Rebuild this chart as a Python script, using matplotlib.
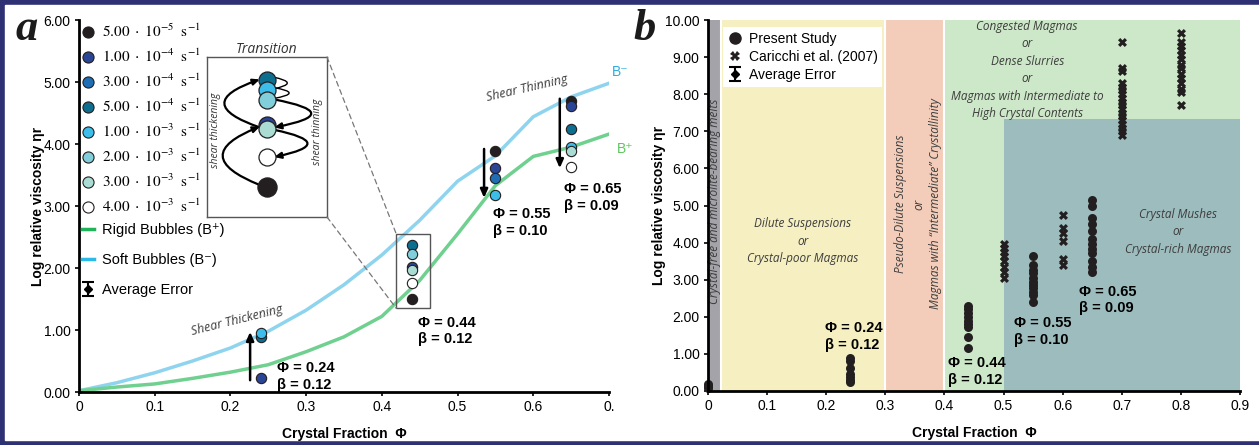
import matplotlib.pyplot as plt
from matplotlib.patches import Rectangle, ConnectionPatch
from matplotlib.lines import Line2D
from matplotlib.collections import LineCollection
from matplotlib.container import ErrorbarContainer

plt.rcParams['font.family'] = ['Liberation Sans', 'DejaVu Sans']
plt.rcParams['mathtext.fontset'] = 'stix'

# ---------------- panel a data ----------------
rate_labels = [r'$\mathrm{5.00\ \cdot\ 10^{-5}\ \ s^{-1}}$',
               r'$\mathrm{1.00\ \cdot\ 10^{-4}\ \ s^{-1}}$',
               r'$\mathrm{3.00\ \cdot\ 10^{-4}\ \ s^{-1}}$',
               r'$\mathrm{5.00\ \cdot\ 10^{-4}\ \ s^{-1}}$',
               r'$\mathrm{1.00\ \cdot\ 10^{-3}\ \ s^{-1}}$',
               r'$\mathrm{2.00\ \cdot\ 10^{-3}\ \ s^{-1}}$',
               r'$\mathrm{3.00\ \cdot\ 10^{-3}\ \ s^{-1}}$',
               r'$\mathrm{4.00\ \cdot\ 10^{-3}\ \ s^{-1}}$']
rate_colors = ['#231f20', '#2b4596', '#1f6db3', '#0e6e90',
               '#3dbde9', '#80cfdb', '#abdcd4', '#ffffff']

curve_phi = [0, 0.05, 0.1, 0.15, 0.2, 0.25, 0.3, 0.35, 0.4, 0.45, 0.5, 0.55, 0.6, 0.65, 0.7]
soft_eta = [0.02, 0.15, 0.31, 0.5, 0.71, 0.98, 1.32, 1.73, 2.21, 2.77, 3.4, 3.81, 4.44, 4.76, 4.98]
rigid_eta = [0.02, 0.08, 0.13, 0.22, 0.32, 0.44, 0.65, 0.89, 1.22, 1.8, 2.55, 3.33, 3.8, 3.95, 4.16]

pts_phi = [0.24, 0.24, 0.24,
           0.44, 0.44, 0.44, 0.44, 0.44, 0.44,
           0.55, 0.55, 0.55, 0.55,
           0.65, 0.65, 0.65, 0.65, 0.65, 0.65]
pts_eta = [0.89, 0.95, 0.23,
           2.37, 2.22, 2.02, 1.97, 1.76, 1.50,
           3.89, 3.61, 3.45, 3.18,
           4.69, 4.61, 4.24, 3.95, 3.89, 3.63]
pts_rate = [3, 4, 1,
            3, 5, 1, 6, 7, 0,
            0, 1, 2, 4,
            0, 1, 3, 4, 6, 7]

arrow_phi = [0.226, 0.535, 0.635]
arrow_from = [0.19, 3.92, 4.73]
arrow_to = [0.97, 3.13, 3.61]

label_phi = ['0.24', '0.44', '0.55', '0.65']
label_beta = ['0.12', '0.12', '0.10', '0.09']
label_x_a = [0.262, 0.448, 0.547, 0.64]
label_y_a = [0.25, 0.985, 2.735, 3.135]

# transition sketch (inset units)
sketch_y = [0.856, 0.794, 0.731, 0.575, 0.55, 0.375, 0.1875]
sketch_rate = [3, 4, 5, 1, 6, 7, 0]

# ---------------- panel b data ----------------
zone_edges = [0, 0.022, 0.30, 0.40, 0.90]
zone_colors = ['#a4a3a9', '#f5efc1', '#f3cdb9', '#cde8c8']
mush_phi = [0.5, 0.9]
mush_top = 7.33

present_phi = [0.0] * 3 + [0.24] * 7 + [0.44] * 9 + [0.55] * 11 + [0.65] * 12
present_eta = [0.08, 0.13, 0.18,
               0.9, 0.82, 0.62, 0.45, 0.38, 0.30, 0.24,
               2.3, 2.2, 2.1, 2.0, 1.9, 1.8, 1.72, 1.45, 1.15,
               3.64, 3.4, 3.26, 3.18, 3.05, 2.94, 2.86, 2.78, 2.67, 2.59, 2.4,
               5.15, 5.0, 4.65, 4.5, 4.3, 4.1, 3.95, 3.82, 3.72, 3.5, 3.35, 3.2]
caricchi_phi = [0.5] * 8 + [0.6] * 6 + [0.7] * 18 + [0.8] * 14
caricchi_eta = [3.95, 3.85, 3.75, 3.65, 3.5, 3.35, 3.2, 3.05,
                4.75, 4.4, 4.25, 4.05, 3.55, 3.4,
                9.4, 8.7, 8.62, 8.3, 8.2, 8.1, 8.0, 7.9, 7.8, 7.7, 7.6, 7.5, 7.4, 7.3, 7.2, 7.1, 7.0, 6.9,
                9.65, 9.4, 9.3, 9.2, 9.05, 8.95, 8.8, 8.7, 8.55, 8.45, 8.3, 8.15, 8.05, 7.7]
label_x_b = [0.198, 0.406, 0.518, 0.628]
label_y_b = [1.47, 0.52, 1.6, 2.45]

ink = '#231f20'
note = '#3d3d3d'
italic_font = ['Open Sans', 'DejaVu Sans']


def error_handle():
    mk = Line2D([], [], color='k', marker='D', ms=4, ls='none')
    cap = Line2D([], [], color='k', marker='_', ms=9, mew=1.5, ls='none')
    bar = LineCollection([], colors='k', linewidths=1.5)
    return ErrorbarContainer((mk, (cap, cap), (bar,)), has_xerr=False, has_yerr=True)


fig = plt.figure(figsize=(12.59, 4.45), dpi=100, facecolor='#2d3174')
fig.patches.append(Rectangle((5 / 1259, 1 - 440 / 445), 1, 435 / 445,
                             transform=fig.transFigure, color='white', zorder=-5))

# ======================= panel a =======================
ax = fig.add_axes([79 / 1259, 1 - 392 / 445, 530 / 1259, 372 / 445])
ax.set_xlim(0, 0.7)
ax.set_ylim(0, 6)
ax.patch.set_alpha(0)
for s in ['top', 'right']:
    ax.spines[s].set_visible(False)
for s in ['left', 'bottom']:
    ax.spines[s].set_linewidth(2)
ax.set_xticks([0, 0.1, 0.2, 0.3, 0.4, 0.5, 0.6, 0.7])
ax.set_xticklabels(['0', '0.1', '0.2', '0.3', '0.4', '0.5', '0.6', '0.'])
ax.set_yticks(range(7))
ax.set_yticklabels([f'{v:.2f}' for v in range(7)])
ax.tick_params(direction='out', length=3, width=1.2, labelsize=10, pad=3)
ax.set_xlabel('Crystal Fraction  Φ', fontsize=10, fontweight='bold', labelpad=9)
ax.set_ylabel('Log relative viscosity ηr', fontsize=10, fontweight='bold', labelpad=-1)

ax.plot(curve_phi, soft_eta, color='#8fd4ee', lw=2.5, zorder=2)
ax.plot(curve_phi, rigid_eta, color='#6fd08f', lw=2.5, zorder=2)
ax.text(0.704, 5.1, 'B⁻', color='#2aaedf', fontsize=10, clip_on=False)
ax.text(0.710, 3.85, 'B⁺', color='#5cc65e', fontsize=10, clip_on=False)

for i, (x, y, r) in enumerate(zip(pts_phi, pts_eta, pts_rate)):
    ax.scatter(x, y, s=55, color=rate_colors[r], edgecolor=ink, linewidth=0.8, zorder=4 + i * 0.01)

for x, y0, y1 in zip(arrow_phi, arrow_from, arrow_to):
    ax.annotate('', xy=(x, y1), xytext=(x, y0),
                arrowprops=dict(arrowstyle='-|>,head_length=0.5,head_width=0.22',
                                color='black', lw=1.8, shrinkA=0, shrinkB=0))

for x, y, p, b in zip(label_x_a, label_y_a, label_phi, label_beta):
    ax.text(x, y, f'Φ = {p}\nβ = {b}', fontsize=10.5, fontweight='bold',
            ha='left', va='center', linespacing=1.25)

ax.text(0.209, 1.16, 'Shear Thickening', rotation=14, fontsize=9, style='italic',
        color=note, family=italic_font, ha='center', va='center')
ax.text(0.592, 4.9, 'Shear Thinning', rotation=13, fontsize=9, style='italic',
        color=note, family=italic_font, ha='center', va='center')

ax.add_patch(Rectangle((0.419, 1.35), 0.045, 1.2, fill=False, ec='#555555', lw=1, zorder=3))

rate_handles = [Line2D([], [], ls='none', marker='o', ms=8, mfc=c, mec=ink, mew=0.8) for c in rate_colors]
leg1 = ax.legend(rate_handles, rate_labels, loc='upper left', bbox_to_anchor=(0.0, 1.0),
                 frameon=False, fontsize=11, handlelength=0.8, handletextpad=0.5,
                 labelspacing=0.5, borderpad=0.2, borderaxespad=0)
ax.add_artist(leg1)
other_handles = [Line2D([], [], color='#1fb35a', lw=2.5), Line2D([], [], color='#2bb9e5', lw=2.5),
                 error_handle()]
ax.legend(other_handles, ['Rigid Bubbles (B⁺)', 'Soft Bubbles (B⁻)', 'Average Error'],
          loc='upper left', bbox_to_anchor=(0.0, 0.462), frameon=False, fontsize=10.5,
          handlelength=0.8, handletextpad=0.6, labelspacing=1.1, borderpad=0.2, borderaxespad=0)

# transition sketch
ins = ax.inset_axes([0.2415, 0.4704, 0.2264, 0.4301])
ins.set_xlim(0, 1)
ins.set_ylim(0, 1)
ins.set_xticks([])
ins.set_yticks([])
for s in ins.spines.values():
    s.set_color('#555555')
    s.set_linewidth(1)
ins.set_title('Transition', fontsize=10, style='italic', family=italic_font, color='#333333', pad=2)
for y, r in zip(sketch_y, sketch_rate):
    size = 190 if r == 0 else 150
    ins.scatter(0.5, y, s=size, color=rate_colors[r], edgecolor=ink, linewidth=0.9, zorder=3)

sketch_arrows = [((0.44, 0.20), (0.44, 0.565), -1.25, True),
                 ((0.44, 0.56), (0.44, 0.86), -1.45, True),
                 ((0.56, 0.735), (0.56, 0.56), -2.6, True),
                 ((0.56, 0.545), (0.56, 0.375), -2.4, True),
                 ((0.55, 0.875), (0.55, 0.80), -2.4, False),
                 ((0.55, 0.81), (0.55, 0.74), -2.9, False)]
for a, b, rad, head in sketch_arrows:
    style = '-|>,head_length=0.4,head_width=0.18' if head else '-'
    ins.annotate('', xy=b, xytext=a,
                 arrowprops=dict(arrowstyle=style, color='black', lw=1.6 if head else 1.0,
                                 shrinkA=0, shrinkB=0, connectionstyle=f'arc3,rad={rad}'),
                 zorder=2)
ins.text(0.067, 0.54, 'shear thickening', rotation=90, fontsize=7.5, style='italic',
         family=italic_font, color='#333333', ha='center', va='center')
ins.text(0.925, 0.53, 'shear thinning', rotation=90, fontsize=7.5, style='italic',
         family=italic_font, color='#333333', ha='center', va='center')

for ya, yb in [(1, 2.55), (0, 1.35)]:
    con = ConnectionPatch(xyA=(1, ya), coordsA=ins.transAxes, xyB=(0.419, yb), coordsB=ax.transData,
                          ls=(0, (4, 3)), color='#777777', lw=0.9)
    fig.add_artist(con)

fig.text(15 / 1259, 1 - 40 / 445, 'a', fontsize=32, fontweight='bold', style='italic',
         family='Liberation Serif', color='#1b1b1b')

# ======================= panel b =======================
bx = fig.add_axes([708 / 1259, 1 - 391 / 445, 532 / 1259, 371 / 445])
bx.set_xlim(0, 0.9)
bx.set_ylim(0, 10)
bx.patch.set_alpha(0)
for s in ['top', 'right']:
    bx.spines[s].set_visible(False)
for s in ['left', 'bottom']:
    bx.spines[s].set_linewidth(2)
    bx.spines[s].set_zorder(6)
bx.set_xticks([0, 0.1, 0.2, 0.3, 0.4, 0.5, 0.6, 0.7, 0.8, 0.9])
bx.set_xticklabels(['0', '0.1', '0.2', '0.3', '0.4', '0.5', '0.6', '0.7', '0.8', '0.9'])
bx.set_yticks(range(11))
bx.set_yticklabels([f'{v:.2f}' for v in range(11)])
bx.tick_params(direction='out', length=3, width=1.2, labelsize=10, pad=3)
bx.set_xlabel('Crystal Fraction  Φ', fontsize=10, fontweight='bold', labelpad=9)
bx.set_ylabel('Log relative viscosity ηr', fontsize=10, fontweight='bold', labelpad=-1)

for x0, x1, c in zip(zone_edges[:-1], zone_edges[1:], zone_colors):
    bx.axvspan(x0, x1, color=c, lw=0, zorder=0)
bx.add_patch(Rectangle((mush_phi[0], 0), mush_phi[1] - mush_phi[0], mush_top,
                       color='#9dbcbe', lw=0, zorder=0.5))
for x in zone_edges[1:4]:
    bx.axvline(x, color='white', lw=1.5, zorder=0.6)

bx.text(0.0115, 5.1, 'Crystal-free and microlite-bearing melts', rotation=90, fontsize=8.5,
        style='italic', family=italic_font, color=note, ha='center', va='center')
bx.text(0.16, 4.04, 'Dilute Suspensions\nor\nCrystal-poor Magmas', fontsize=8.5,
        style='italic', family=italic_font, color=note, ha='center', va='center', linespacing=1.45)
bx.text(0.356, 5.04, 'Pseudo-Dilute Suspensions\nor\nMagmas with \u201cIntermediate\u201d Crystallinity',
        rotation=90, fontsize=8.5, style='italic', family=italic_font, color=note,
        ha='center', va='center', linespacing=1.45)
bx.text(0.54, 8.65, 'Congested Magmas\nor\nDense Slurries\nor\nMagmas with Intermediate to\nHigh Crystal Contents',
        fontsize=8.5, style='italic', family=italic_font, color=note, ha='center', va='center',
        linespacing=1.45)
bx.text(0.795, 4.29, 'Crystal Mushes\nor\nCrystal-rich Magmas', fontsize=8.5, style='italic',
        family=italic_font, color=note, ha='center', va='center', linespacing=1.45)

bx.scatter(present_phi, present_eta, s=42, color=ink, lw=0, zorder=4, clip_on=False)
bx.scatter(caricchi_phi, caricchi_eta, s=42, marker='X', color=ink, lw=0, zorder=4)

for x, y, p, b in zip(label_x_b, label_y_b, label_phi, label_beta):
    bx.text(x, y, f'Φ = {p}\nβ = {b}', fontsize=10.5, fontweight='bold',
            ha='left', va='center', linespacing=1.25, zorder=5)

handles_b = [Line2D([], [], ls='none', marker='o', ms=8, color=ink),
             Line2D([], [], ls='none', marker='X', ms=7, color=ink, mew=0),
             error_handle()]
bx.legend(handles_b, ['Present Study', 'Caricchi et al. (2007)', 'Average Error'],
          loc='upper left', bbox_to_anchor=(0.028, 0.981), frameon=True, fancybox=False,
          facecolor='white', edgecolor='none', framealpha=1, fontsize=10, handlelength=1.0,
          handletextpad=0.5, labelspacing=0.3, borderpad=0.35, borderaxespad=0)

fig.text(633 / 1259, 1 - 40 / 445, 'b', fontsize=32, fontweight='bold', style='italic',
         family='Liberation Serif', color='#1b1b1b')

fig.savefig('out.png', dpi=100, facecolor=fig.get_facecolor())
